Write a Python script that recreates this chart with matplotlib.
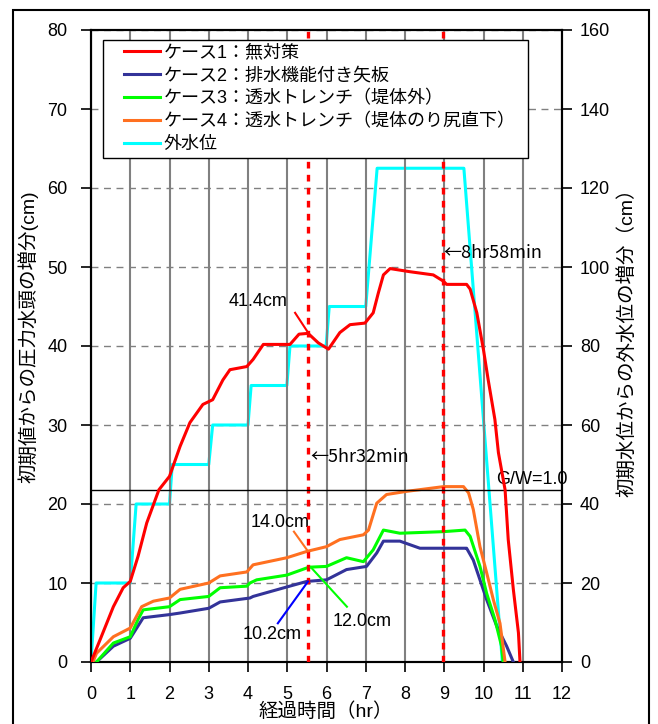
import numpy as np
import matplotlib
matplotlib.use("Agg")
import matplotlib.pyplot as plt
from matplotlib.patches import Rectangle
from matplotlib.lines import Line2D
from matplotlib.legend_handler import HandlerLine2D

plt.rcParams['font.family'] = ['Liberation Sans', 'Noto Sans CJK JP', 'DejaVu Sans']

# 経過時間 (hr) と各ケースの圧力水頭の増分 (cm)
x_case1 = [0, 0.23, 0.57, 0.82, 1.0, 1.2, 1.42, 1.73, 2.0, 2.27, 2.52, 2.85, 3.1, 3.36, 3.54,
           3.97, 4.13, 4.39, 5.07, 5.3, 5.53, 5.79, 6.05, 6.34, 6.6, 6.98, 7.19, 7.32, 7.45,
           7.62, 8.13, 8.72, 8.98, 9.06, 9.57, 9.66, 9.83, 10.0, 10.12, 10.29, 10.38, 10.55,
           10.63, 10.76, 10.89, 10.93]
y_case1 = [0, 2.8, 7.0, 9.4, 10.2, 13.4, 17.6, 21.8, 23.5, 27.3, 30.3, 32.6, 33.2, 35.7, 37.0,
           37.4, 38.3, 40.2, 40.2, 41.5, 41.6, 40.4, 39.6, 41.7, 42.7, 42.9, 44.2, 46.7, 49.0,
           49.8, 49.4, 49.0, 48.2, 47.8, 47.8, 47.2, 44.2, 39.5, 35.7, 30.7, 26.5, 21.8,
           15.5, 9.2, 3.7, 0]

x_case2 = [0.14, 0.57, 1.0, 1.33, 2.0, 2.27, 3.0, 3.29, 4.05, 4.13, 4.99, 5.5, 6.0, 6.51, 7.02,
           7.28, 7.45, 7.87, 8.38, 8.98, 9.53, 9.57, 9.74, 9.91, 10.08, 10.34, 10.59, 10.76]
y_case2 = [0, 2.0, 3.0, 5.6, 6.0, 6.2, 6.8, 7.6, 8.1, 8.3, 9.5, 10.2, 10.4, 11.7, 12.1,
           13.8, 15.3, 15.3, 14.4, 14.4, 14.4, 14.4, 12.9, 10.4, 7.9, 4.5, 2.0, 0]

x_case3 = [0.14, 0.57, 1.0, 1.2, 1.33, 2.0, 2.27, 3.0, 3.29, 3.97, 4.05, 4.22, 4.99, 5.55, 6.0,
           6.51, 6.94, 7.19, 7.45, 7.87, 8.98, 9.53, 9.66, 9.91, 10.08, 10.29, 10.46, 10.5]
y_case3 = [0, 2.4, 3.2, 5.4, 6.6, 7.0, 7.9, 8.3, 9.4, 9.6, 10.0, 10.4, 11.0, 12.0, 12.1,
           13.2, 12.7, 14.2, 16.7, 16.3, 16.5, 16.7, 15.9, 12.1, 8.7, 5.4, 2.0, 0]

x_case4 = [0.05, 0.14, 0.57, 1.0, 1.29, 1.59, 2.0, 2.27, 3.0, 3.29, 3.97, 4.13, 4.99, 5.5, 6.0,
           6.34, 6.94, 7.07, 7.28, 7.53, 8.04, 8.98, 9.49, 9.62, 9.74, 9.91, 10.08, 10.25,
           10.42, 10.55]
y_case4 = [0, 1.1, 3.2, 4.3, 7.0, 7.7, 8.1, 9.2, 10.0, 10.9, 11.4, 12.3, 13.2, 14.0, 14.6,
           15.5, 16.1, 16.7, 20.1, 21.2, 21.6, 22.2, 22.2, 21.4, 19.3, 14.6, 11.3, 7.9,
           4.9, 0]

# 外水位の増分 (cm, 右軸)
x_river = [0, 0.13, 1.0, 1.15, 2.0, 2.07, 3.0, 3.1, 4.0, 4.08, 4.99, 5.07, 5.99, 6.07,
           7.0, 7.29, 9.5, 10.48]
y_river = [0, 20, 20, 40, 40, 50, 50, 60, 60, 70, 70, 80, 80, 90, 90, 125, 125, 0]

labels = ['ケース1：無対策', 'ケース2：排水機能付き矢板', 'ケース3：透水トレンチ（堤体外）',
          'ケース4：透水トレンチ（堤体のり尻直下）', '外水位']
colors = ['#ff0000', '#333399', '#00ff00', '#ff7020', '#00ffff']

t_marks = [5 + 32 / 60, 8 + 58 / 60]
gw_level = 21.8

W, H = 658, 724
fig = plt.figure(figsize=(W / 100, H / 100), dpi=100)
ax = fig.add_axes([91 / W, 62 / H, 471 / W, 632 / H])
ax2 = ax.twinx()
ax2.set_zorder(0)
ax.set_zorder(1)
ax.patch.set_visible(False)

ax.set_xlim(0, 12)
ax.set_ylim(0, 80)
ax2.set_ylim(0, 160)
ax.set_xticks(range(0, 13))
ax.set_yticks(range(0, 81, 10))
ax2.set_yticks(range(0, 161, 20))

ax2.grid(axis='y', color='#808080', linestyle=(0, (5, 4)), linewidth=1.0)
ax2.grid(axis='x', visible=False)
ax.grid(axis='x', color='#808080', linestyle='-', linewidth=1.5)
ax.set_axisbelow(True)

l1, = ax.plot(x_case1, y_case1, color=colors[0], lw=2.2, zorder=5)
l2, = ax.plot(x_case2, y_case2, color=colors[1], lw=2.2, zorder=3)
l3, = ax.plot(x_case3, y_case3, color=colors[2], lw=2.2, zorder=3)
l4, = ax.plot(x_case4, y_case4, color=colors[3], lw=2.2, zorder=3)
l5, = ax2.plot(x_river, y_river, color=colors[4], lw=2.2)

for t in t_marks:
    ax.axvline(t, color='#ff0000', lw=2.4, linestyle=(0, (2.0, 1.9)), zorder=4)

ax.axhline(gw_level, color='black', lw=1.0, zorder=4)
ax.text(10.32, gw_level + 0.2, 'G/W=1.0', fontsize=13, ha='left', va='bottom', clip_on=False)

arrow_font = ['Noto Sans CJK JP', 'Liberation Sans']
ax.text(5.6, 25.9, '←5hr32min', fontsize=13, ha='left', va='center', family=arrow_font)
ax.text(8.98, 51.8, '←8hr58min', fontsize=13, ha='left', va='center', family=arrow_font)

ax.text(5.0, 45.6, '41.4cm', fontsize=13, ha='right', va='center')
ax.plot([5.2, 5.53], [44.2, 41.7], color='#ff0000', lw=1.5, zorder=6)
ax.text(4.82, 17.6, '14.0cm', fontsize=13, ha='center', va='center')
ax.plot([5.17, 5.53], [16.5, 14.0], color='#ff7020', lw=1.5, zorder=6)
ax.text(6.9, 5.1, '12.0cm', fontsize=13, ha='center', va='center')
ax.plot([5.6, 6.52], [12.0, 7.0], color='#00ff00', lw=1.5, zorder=6)
ax.text(4.61, 3.5, '10.2cm', fontsize=13, ha='center', va='center')
ax.plot([5.53, 4.76], [10.2, 4.9], color='#0000ff', lw=1.5, zorder=6)

for a in (ax, ax2):
    for s in a.spines.values():
        s.set_color('black')
        s.set_linewidth(1.5)
ax.tick_params(axis='y', direction='out', length=7, width=1.2, labelsize=13, pad=10)
ax.tick_params(axis='x', direction='out', length=7, width=1.2, labelsize=13, pad=10)
ax2.tick_params(axis='y', direction='out', length=7, width=1.2, labelsize=13, pad=6)

leg = ax.legend([l1, l2, l3, l4, l5], labels, loc='upper left',
                bbox_to_anchor=((103 - 91) / 471, (662 - 160) / 632, (528 - 103) / 471, 120 / 632),
                mode='expand', borderaxespad=0, fontsize=13, numpoints=2,
                handler_map={Line2D: HandlerLine2D(marker_pad=0.92)},
                handlelength=3.8, handletextpad=-0.7, labelspacing=0.32, borderpad=0.25,
                fancybox=False, framealpha=1, edgecolor='black')
leg.get_frame().set_linewidth(1.0)
leg.set_zorder(10)

fig.text(28 / W, 1 - 337 / H, '初期値からの圧力水頭の増分(cm)', rotation=90,
         ha='center', va='center', fontsize=14)
fig.text(627 / W, 1 - 338 / H, '初期水位からの外水位の増分（cm）', rotation=90,
         ha='center', va='center', fontsize=14)
fig.text(326 / W, 1 - 712 / H, '経過時間（hr）', ha='center', va='center', fontsize=14)

fig.patches.append(Rectangle((12.5 / W, -0.01), (649 - 12.5) / W, 1 - 10 / H + 0.01,
                             transform=fig.transFigure, fill=False, edgecolor='black',
                             linewidth=1.5))

fig.savefig('out.png', dpi=100)
